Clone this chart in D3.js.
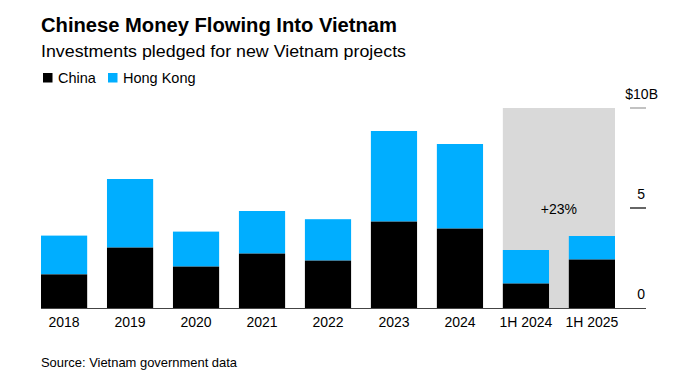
<!DOCTYPE html>
<html>
<head>
<meta charset="utf-8">
<script src="https://cdn.jsdelivr.net/npm/d3@7"></script>
<style>
  body { margin: 0; background: #fff; font-family: "Liberation Sans", Arial, sans-serif; }
  svg text { font-family: "Liberation Sans", Arial, sans-serif; }
</style>
</head>
<body>
<svg width="675" height="385"></svg>
<script>
var periods = ["2018", "2019", "2020", "2021", "2022", "2023", "2024", "1H 2024", "1H 2025"];
var china = [1.68, 3.02, 2.07, 2.72, 2.37, 4.32, 3.97, 1.22, 2.42];
var hongKong = [1.94, 3.43, 1.75, 2.13, 2.07, 4.53, 4.23, 1.68, 1.18];
var yTicks = [0, 5, 10];
var shaded = ["1H 2024", "1H 2025"];

var svg = d3.select("svg");

var x = d3.scaleBand().domain(periods).range([41, 615]).paddingInner(0.3).paddingOuter(0);
var y = d3.scaleLinear().domain([0, 10]).range([308, 108]);

// header
svg.append("text").attr("x", 41).attr("y", 32)
  .style("font-size", "20px").style("font-weight", "bold").attr("fill", "#000")
  .attr("textLength", 356).attr("lengthAdjust", "spacingAndGlyphs")
  .text("Chinese Money Flowing Into Vietnam");
svg.append("text").attr("x", 41).attr("y", 57)
  .style("font-size", "17px").attr("fill", "#000")
  .attr("textLength", 365).attr("lengthAdjust", "spacingAndGlyphs")
  .text("Investments pledged for new Vietnam projects");

var legend = [{name: "China", color: "#000", x: 43}, {name: "Hong Kong", color: "#00aeff", x: 108}];
legend.forEach(function(d) {
  svg.append("rect").attr("x", d.x).attr("y", 73).attr("width", 9.5).attr("height", 9.5).attr("fill", d.color);
  svg.append("text").attr("x", d.x + 15).attr("y", 83).style("font-size", "14.5px").attr("fill", "#000").text(d.name);
});

// shaded half-year region
svg.append("rect")
  .attr("x", x(shaded[0]))
  .attr("y", y(10))
  .attr("width", x(shaded[1]) + x.bandwidth() - x(shaded[0]))
  .attr("height", y(0) - y(10))
  .attr("fill", "#d9d9d9");

svg.append("text")
  .attr("x", (x(shaded[0]) + x(shaded[1]) + x.bandwidth()) / 2)
  .attr("y", 214)
  .attr("text-anchor", "middle")
  .style("font-size", "14px").attr("fill", "#000")
  .text("+23%");

// bars
var stackData = periods.map(function(p, i) { return {p: p, c: china[i], h: hongKong[i]}; });

var bars = svg.append("g");
bars.selectAll(".hk").data(stackData).enter().append("rect")
  .attr("class", "hk")
  .attr("x", function(d) { return x(d.p); })
  .attr("y", function(d) { return y(d.c + d.h); })
  .attr("width", x.bandwidth())
  .attr("height", function(d) { return y(d.c) - y(d.c + d.h); })
  .attr("fill", "#00aeff");
bars.selectAll(".cn").data(stackData).enter().append("rect")
  .attr("class", "cn")
  .attr("x", function(d) { return x(d.p); })
  .attr("y", function(d) { return y(d.c); })
  .attr("width", x.bandwidth())
  .attr("height", function(d) { return y(0) - y(d.c); })
  .attr("fill", "#000");

// baseline
svg.append("line").attr("x1", 41).attr("x2", 646).attr("y1", y(0) + 0.5).attr("y2", y(0) + 0.5)
  .attr("stroke", "#444").attr("stroke-width", 1);

// right y axis
yTicks.forEach(function(t) {
  if (t > 0) {
    svg.append("line").attr("x1", 630).attr("x2", 646).attr("y1", y(t)).attr("y2", y(t))
      .attr("stroke", t === 10 ? "#999" : "#000").attr("stroke-width", 1.2);
  }
  var lbl = svg.append("text").attr("x", 645).attr("y", y(t) - 9)
    .attr("text-anchor", "end").style("font-size", "14px").attr("fill", "#000");
  if (t === 10) {
    lbl.attr("x", 658).text("$" + t + "B");
  } else {
    lbl.text(t);
  }
});

// x labels
svg.append("g").selectAll("text").data(periods).enter().append("text")
  .attr("x", function(d) { return x(d) + x.bandwidth() / 2; })
  .attr("y", 327)
  .attr("text-anchor", "middle")
  .style("font-size", "14px").attr("fill", "#000")
  .text(function(d) { return d; });

svg.append("text").attr("x", 41).attr("y", 367)
  .style("font-size", "13px").attr("fill", "#000")
  .attr("textLength", 196).attr("lengthAdjust", "spacingAndGlyphs")
  .text("Source: Vietnam government data");
</script>
</body>
</html>
